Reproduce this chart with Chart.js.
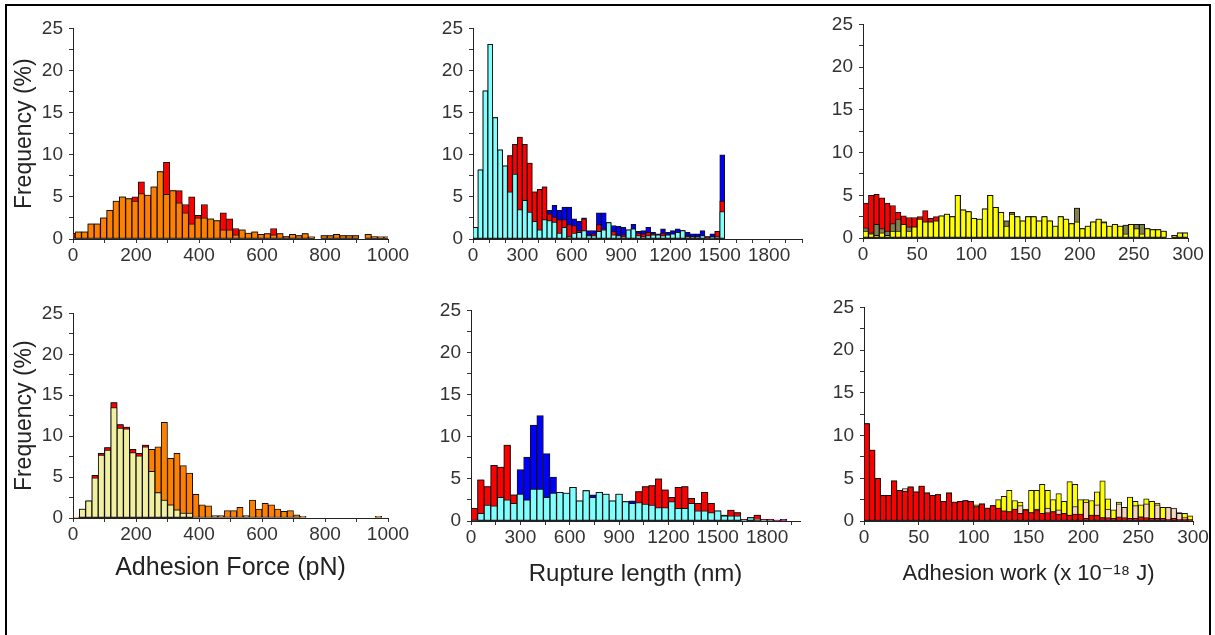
<!DOCTYPE html>
<html><head><meta charset="utf-8">
<script src="https://cdn.jsdelivr.net/npm/chart.js@4.4.1/dist/chart.umd.min.js"></script>
<style>
html,body{margin:0;padding:0;background:#fff;width:1215px;height:635px;overflow:hidden;}
#frame{position:absolute;left:5px;top:4px;width:1202px;height:700px;border:2px solid #000;}
canvas{position:absolute;}
</style></head><body>
<div id="frame"></div>
<canvas id="p1"></canvas><canvas id="p2"></canvas><canvas id="p3"></canvas>
<canvas id="p4"></canvas><canvas id="p5"></canvas><canvas id="p6"></canvas>
<script>
// ---------------- tick labels ----------------
const freqTicks = [0, 5, 10, 15, 20, 25];
const forceTicks = [0, 200, 400, 600, 800, 1000];
const lengthTicks = [0, 300, 600, 900, 1200, 1500, 1800];
const workTicks = [0, 50, 100, 150, 200, 250, 300];

// ---------------- top-left: adhesion force (pN), bins of 20 pN ----------------
const forceTopOrange = [0.86,0.86,1.8,1.8,2.5,3.4,4.5,5.0,4.8,4.5, 5.4,5.2,6.2,8.0,5.3,5.75,4.3,3.1,1.8,2.5,
  2.5,2.4,2.2,1.1,1.1,0.5,1.1,0.7,0.85,0.55, 0.65,0.5,0.65,0.3,0.55,0.4,0.65,0.25,0,0.4,
  0.4,0.55,0.4,0.4,0.4,0,0.55,0.25,0.25,0.25];
const forceTopRed = [0.66, 0.86,0.86,1.8,1.8,2.5,3.4,4.5,5.0,4.8,5.0, 6.8,5.2,6.2,8.0,9.1,5.75,5.75,4.1,5.0,2.8,
  4.1,2.4,2.2,3.1,2.4,1.25,1.1,0.7,0.85,0.55, 0.65,1.25,0.65,0.3,0.55,0.4,0.65,0.25,0,0.4,
  0.4,0.55,0.4,0.4,0.4,0,0.55,0.3,0.25,0.25];

// ---------------- top-middle: rupture length (nm), bins of 30 nm ----------------
const lengthTopCyan = [1.4,8.2,17.6,23.1,14.4,10.6,8.7,5.6,7.7,3.5, 4.6,3.2,2.1,1.1,2.3,2.2,2.0,0.7,1.4,0.3,
  0.7,0.8,1.0,0.4,0.4,0.9,1.1,1.95,0.5,0.4, 0.3,1.1,1.2,0.4,0.3,0.4,0.5,0.5,0.4,0.5,
  0.6,0.8,1.0,0.3,0.3,0.3,0.4,0.0,0.2,0.3, 3.25];
const lengthTopRed = [1.4,8.2,17.6,23.1,14.4,10.6,8.7,9.9,11.25,12.1, 11.25,9.0,5.6,5.9,6.2,3.0,2.6,2.3,2.3,1.7,
  1.6,1.0,2.4,0.5,0.6,1.7,1.2,1.95,0.9,0.5, 0.5,1.1,1.2,0.7,0.6,0.8,0.6,0.5,0.7,0.5,
  0.6,0.8,1.0,0.4,0.3,0.3,0.4,0.3,0.3,0.9, 4.5];
const lengthTopBlue = [1.4,8.2,17.6,23.1,14.4,10.6,8.7,9.9,11.25,12.1, 11.25,9.0,5.6,5.9,6.2,3.4,4.0,3.4,3.8,3.8,
  2.4,2.1,2.5,1.0,1.0,3.1,3.1,1.95,1.6,1.5, 1.4,1.1,1.75,0.9,1.0,1.4,0.8,0.6,1.2,0.8,
  1.0,1.2,1.0,0.8,0.6,0.6,1.0,0.3,0.6,0.9, 10.0];

// ---------------- top-right: adhesion work (x 10^-18 J), bins of 5 ----------------
const workTopYellow = [0.8,0.5,0.3,0.6,0.3,0.8,0.8,1.6,0.8,1.3, 2.2,1.9,1.9,2.0,2.6,2.8,2.5,5.0,3.3,3.1,
  2.3,2.2,3.4,5.0,3.6,3.0,1.4,2.8,2.5,2.0, 2.5,2.5,2.0,2.5,2.0,1.4,2.5,2.2,1.7,1.9,
  1.1,1.4,1.9,2.2,1.8,1.4,1.6,1.4,0.5,1.6, 1.1,0.5,1.1,1.0,1.0,0.8,0.0,0.3,0.6,0.6];
const workTopOlive = [1.2,0.6,1.6,1.1,0.8,1.7,2.2,1.6,1.3,1.3, 2.2,1.9,1.9,2.0,2.6,2.8,2.5,5.0,3.3,3.1,
  2.3,2.2,3.4,5.0,3.6,3.0,2.0,3.0,2.5,2.0, 2.5,2.5,2.0,2.5,2.0,1.4,2.5,2.2,1.7,3.5,
  1.1,1.4,1.9,2.2,1.9,1.4,1.6,1.4,1.5,1.6, 1.6,1.6,1.1,1.0,1.0,0.8,0.0,0.3,0.6,0.6];
const workTopRed = [4.1,5.0,5.1,4.7,4.1,3.8,3.0,2.6,2.4,2.4, 2.5,3.2,2.3,2.5,2.6,2.8,2.5,5.0,3.3,3.1,
  2.3,2.2,3.4,5.0,3.6,3.0,2.0,3.0,2.5,2.0, 2.5,2.5,2.0,2.5,2.0,1.4,2.5,2.2,1.7,3.5,
  1.1,1.4,1.9,2.2,1.9,1.4,1.6,1.4,1.5,1.6, 1.6,1.6,1.1,1.0,1.0,0.8,0.0,0.3,0.6,0.6];

// ---------------- bottom-left: adhesion force (pN), bins of 20 pN ----------------
const forceBotPale = [0,1.1,2.1,4.9,7.7,8.3,13.5,11.0,10.9,8.0, 7.6,8.7,5.7,3.1,2.2,1.6,1.0,0.6,0.6,0,
  0,0,0,0,0,0,0,0,0,0, 0,0,0,0,0,0,0,0,0,0, 0,0,0,0,0,0,0,0,0,0];
const forceBotRed = [0,1.1,2.1,5.2,7.9,8.6,14.1,11.4,11.1,8.4, 7.9,8.9,5.7,3.1,2.2,1.6,1.0,0.6,0.6,0,
  0,0,0,0,0,0,0,0,0,0, 0,0,0,0,0,0,0,0,0,0, 0,0,0,0,0,0,0,0,0,0];
const forceBotOrange = [0.1,1.1,2.1,5.2,7.9,8.6,14.1,11.4,11.1,8.4, 7.9,8.9,8.4,8.7,11.7,7.3,7.9,6.4,5.5,2.9,
  1.6,1.5,0.3,0.3,0.9,0.9,1.3,0.3,2.2,1.1, 1.8,1.6,1.1,0.8,0.9,0.4,0.2,0,0,0,
  0,0,0,0,0,0,0,0,0.2,0];

// ---------------- bottom-middle: rupture length (nm), bins of 40 nm ----------------
const lengthBotCyan = [0,0.9,1.9,1.8,2.8,2.5,2.1,3.2,2.5,3.8, 3.8,2.8,3.3,3.4,3.3,4.0,2.4,3.6,2.8,3.4,
  3.2,2.4,3.2,2.3,2.1,2.2,2.0,1.9,1.6,1.6, 2.3,1.5,1.5,2.1,1.2,1.2,1.0,1.2,0.6,0.6,
  0.6,0.1,0.4,0.2,0.1,0.05,0,0];
const lengthBotRed = [1.5,4.9,4.1,6.6,6.4,9.0,3.1,3.2,2.5,3.8, 3.8,2.8,3.3,3.4,3.3,4.0,2.4,3.6,2.8,3.4,
  3.2,2.4,3.2,2.3,2.1,3.5,4.1,4.2,5.0,3.7, 2.8,4.0,4.1,2.7,2.1,3.4,2.1,1.2,0.7,1.3,
  1.0,0.2,0.4,0.7,0.2,0.2,0.1,0.1];
const lengthBotBlue = [1.5,4.9,4.1,6.6,6.4,9.0,3.1,6.1,7.6,11.4, 12.5,8.0,5.2,3.4,3.3,4.0,2.4,3.6,3.1,3.4,
  3.2,2.4,3.2,2.3,2.4,3.5,4.1,4.2,5.0,3.7, 2.8,4.0,4.1,2.7,2.1,3.4,2.1,1.2,0.7,1.3,
  1.0,0.2,0.4,0.7,0.2,0.2,0.1,0.2];

// ---------------- bottom-right: adhesion work (x 10^-18 J), bins of 5 ----------------
const workBotRed = [11.4,8.3,5.0,3.0,3.0,4.7,3.6,3.5,4.0,3.4, 4.1,3.3,3.0,3.1,2.3,3.3,2.2,2.3,2.4,2.3,
  1.7,2.0,1.5,1.8,1.5,1.2,1.1,1.4,0.9,1.3, 1.0,1.3,0.9,1.0,1.1,0.8,0.9,0.7,0.8,0.8,
  0.3,0.7,0.7,0.4,0.4,0.3,0.5,0.4,0.3,0.3, 0.5,0.4,0.3,0.3,0.3,0.2,0.3,0.2,0.2,0.2];
const workBotBeige = [11.4,8.3,5.0,3.0,3.0,4.7,3.6,3.8,4.0,3.4, 4.1,3.3,3.0,3.1,2.3,3.3,2.2,2.3,2.4,2.3,
  1.7,2.0,1.5,1.8,1.5,1.2,1.1,1.4,1.8,1.3, 1.0,1.4,0.9,1.5,1.1,1.3,0.9,0.7,1.7,0.8,
  2.2,0.7,1.9,0.4,1.4,0.3,2.0,1.6,0.3,1.8, 0.5,2.0,0.3,1.9,0.3,1.6,1.5,0.9,0.4,0.2];
const workBotYellow = [11.4,8.3,5.0,3.0,3.0,4.7,3.6,3.5,4.0,3.4, 4.1,3.3,3.0,3.1,2.3,3.3,2.2,2.3,2.4,2.3,
  1.9,2.0,1.5,1.8,2.5,2.9,3.6,2.4,2.2,1.4, 3.6,3.6,4.3,3.6,2.5,3.2,2.3,4.6,4.3,2.5,
  2.5,2.4,3.4,4.7,2.6,1.3,2.2,1.6,2.8,2.3, 1.9,2.6,2.3,2.1,1.6,1.1,1.3,1.0,0.9,0.6];

// ---------------- bin centres (x categories) ----------------
function centres(first, width, n) { return Array.from({length: n}, (_, i) => first + i * width); }
const forceTopBins = centres(17, 20, 50);
const forceTopRedBins = centres(-3, 20, 51);
const lengthTopBins = centres(15, 30, 51);
const workBins = centres(2.5, 5, 60);
const forceBotBins = centres(10, 20, 50);
const lengthBotBins = centres(20, 40, 48);

// ---------------- rendering ----------------
const FONT = "'Liberation Sans', Arial, 'DejaVu Sans', sans-serif";
Chart.defaults.font.family = FONT;
const C = { orange: '#FF8000', red: '#FF0000', cyan: '#80FFFF', blue: '#0000FF', yellow: '#FFFF00',
            olive: '#808050', pale: '#F0F0A0', beige: '#F5D5C0' };

function series(bins, vals, color) {
  return { data: bins.map((x, i) => ({x: x, y: vals[i]})), backgroundColor: color,
           borderColor: '#111', borderWidth: 1, borderSkipped: false, clip: 0,
           grouped: false, barPercentage: 1, categoryPercentage: 1 };
}

function panel(p) {
  const cv = document.getElementById(p.id);
  const width = Math.ceil(p.R + 26 - p.left);
  const height = p.B + p.H - p.top;
  cv.width = width; cv.height = height;
  cv.style.left = p.left + 'px'; cv.style.top = p.top + 'px';
  cv.style.width = width + 'px'; cv.style.height = height + 'px';
  const W = p.L - p.yBoxLeft;
  const tickGrid = { display: true, drawOnChartArea: false, drawTicks: true, tickLength: 4, color: '#333', offset: false };
  new Chart(cv, {
    type: 'bar',
    data: { datasets: p.datasets },
    options: {
      responsive: false, animation: false, devicePixelRatio: 1, events: [],
      layout: { padding: { left: p.yBoxLeft - p.left, top: p.T - p.top, right: width - (p.R - p.left), bottom: 0 } },
      plugins: { legend: { display: false }, tooltip: { enabled: false } },
      scales: {
        x: {
          type: 'linear', min: 0, max: p.xMax, offset: false, grid: tickGrid,
          border: { display: true, color: '#222', width: 1 },
          ticks: { stepSize: p.xStep, autoSkip: false, maxRotation: 0, minRotation: 0, includeBounds: false,
                   padding: 1, color: '#333', font: { size: 19 },
                   callback: v => (p.xLabels.includes(v) ? String(v) : '') },
          title: p.xTitle ? { display: true, text: p.xTitle, color: '#222', font: { size: p.xTitleSize },
                              padding: { top: 4, bottom: 4 } } : { display: false },
          afterFit: s => { s.height = p.H; }
        },
        y: {
          min: 0, max: 25, grid: tickGrid,
          border: { display: true, color: '#222', width: 1 },
          ticks: { stepSize: 2.5, autoSkip: false, padding: 6, color: '#333', font: { size: 19 },
                   callback: v => (freqTicks.includes(v) ? String(v) : '') },
          title: p.yTitle ? { display: true, text: p.yTitle, color: '#222', font: { size: 23 },
                              padding: { top: 4, bottom: 4 } } : { display: false },
          afterFit: s => { s.width = W; }
        }
      }
    }
  });
}

panel({ id: 'p1', left: 0, top: 11, L: 73, T: 26, R: 388, B: 239, H: 30, yBoxLeft: 6.4,
  xMax: 1000, xStep: 100, xLabels: forceTicks, yTitle: 'Frequency (%)',
  datasets: [ series(forceTopBins, forceTopOrange, C.orange), series(forceTopRedBins, forceTopRed, C.red) ] });

panel({ id: 'p2', left: 420, top: 11, L: 473, T: 26, R: 802, B: 239, H: 30, yBoxLeft: 423,
  xMax: 2000, xStep: 100, xLabels: lengthTicks,
  datasets: [ series(lengthTopBins, lengthTopCyan, C.cyan), series(lengthTopBins, lengthTopRed, C.red),
              series(lengthTopBins, lengthTopBlue, C.blue) ] });

panel({ id: 'p3', left: 810, top: 7, L: 863, T: 22, R: 1188, B: 238, H: 30, yBoxLeft: 813,
  xMax: 300, xStep: 50, xLabels: workTicks,
  datasets: [ series(workBins, workTopYellow, C.yellow), series(workBins, workTopOlive, C.olive),
              series(workBins, workTopRed, C.red) ] });

panel({ id: 'p4', left: 0, top: 296, L: 73, T: 311, R: 388, B: 518, H: 69, yBoxLeft: 6.4,
  xMax: 1000, xStep: 100, xLabels: forceTicks, yTitle: 'Frequency (%)',
  xTitle: 'Adhesion Force (pN)', xTitleSize: 25,
  datasets: [ series(forceBotBins, forceBotPale, C.pale), series(forceBotBins, forceBotRed, C.red),
              series(forceBotBins, forceBotOrange, C.orange) ] });

panel({ id: 'p5', left: 418, top: 293, L: 471, T: 308, R: 800, B: 521, H: 72, yBoxLeft: 421,
  xMax: 2000, xStep: 150, xLabels: lengthTicks,
  xTitle: 'Rupture length (nm)', xTitleSize: 24,
  datasets: [ series(lengthBotBins, lengthBotCyan, C.cyan), series(lengthBotBins, lengthBotRed, C.red),
              series(lengthBotBins, lengthBotBlue, C.blue) ] });

panel({ id: 'p6', left: 811, top: 290, L: 864, T: 305, R: 1193, B: 521, H: 70, yBoxLeft: 814,
  xMax: 300, xStep: 50, xLabels: workTicks,
  xTitle: 'Adhesion work (x 10\u207B\u00B9\u2078 J)', xTitleSize: 22,
  datasets: [ series(workBins, workBotRed, C.red), series(workBins, workBotBeige, C.beige),
              series(workBins, workBotYellow, C.yellow) ] });
</script>
</body></html>
